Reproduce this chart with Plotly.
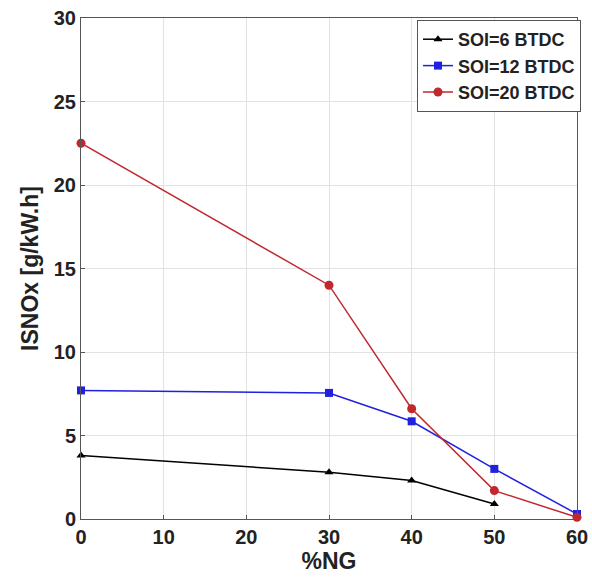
import plotly.graph_objects as go

ng = [0, 30, 40, 50, 60]
soi6_x = [0, 30, 40, 50]
soi6 = [3.8, 2.8, 2.3, 0.9]
soi12 = [7.7, 7.55, 5.85, 3.0, 0.3]
soi20 = [22.5, 14.0, 6.6, 1.7, 0.1]

FONT = "Liberation Sans, Arial, sans-serif"

fig = go.Figure()
fig.add_trace(go.Scatter(x=soi6_x, y=soi6, mode="lines+markers", name="SOI=6 BTDC",
                         line=dict(color="black", width=1.5),
                         marker=dict(symbol="triangle-up", size=8, color="black")))
fig.add_trace(go.Scatter(x=ng, y=soi12, mode="lines+markers", name="SOI=12 BTDC",
                         line=dict(color="#2020e0", width=1.5),
                         marker=dict(symbol="square", size=8, color="#2020e0")))
fig.add_trace(go.Scatter(x=ng, y=soi20, mode="lines+markers", name="SOI=20 BTDC",
                         line=dict(color="#c0282d", width=1.5),
                         marker=dict(symbol="circle", size=9, color="#c0282d")))

axis_common = dict(showline=True, linecolor="#555", linewidth=1, mirror=True,
                   showgrid=True, gridcolor="#e2e2e2", gridwidth=1,
                   ticks="inside", ticklen=4, tickcolor="#555", zeroline=False,
                   automargin=False,
                   tickfont=dict(family=FONT, size=20, color="#222", weight="bold"))

fig.update_layout(
    width=592, height=580,
    margin=dict(l=81, r=14, t=18, b=61),
    plot_bgcolor="white", paper_bgcolor="white",
    font=dict(family=FONT, color="#222"),
    xaxis=dict(range=[0, 60], tickvals=[0, 10, 20, 30, 40, 50, 60],
               title=dict(text="%NG", font=dict(size=23, weight="bold"), standoff=4),
               **axis_common),
    yaxis=dict(range=[0, 30], tickvals=[0, 5, 10, 15, 20, 25, 30],
               title=dict(text="ISNOx [g/kW.h]", font=dict(size=23, weight="bold"), standoff=8),
               **axis_common),
    legend=dict(x=1.006, y=0.996, xanchor="right", yanchor="top",
                bgcolor="white", bordercolor="#555", borderwidth=1,
                font=dict(family=FONT, size=18, color="#222", weight="bold"),
                tracegroupgap=0, itemwidth=30),
    showlegend=True,
)
for tr in fig.data:
    tr.cliponaxis = False

fig.write_html("out.html")
